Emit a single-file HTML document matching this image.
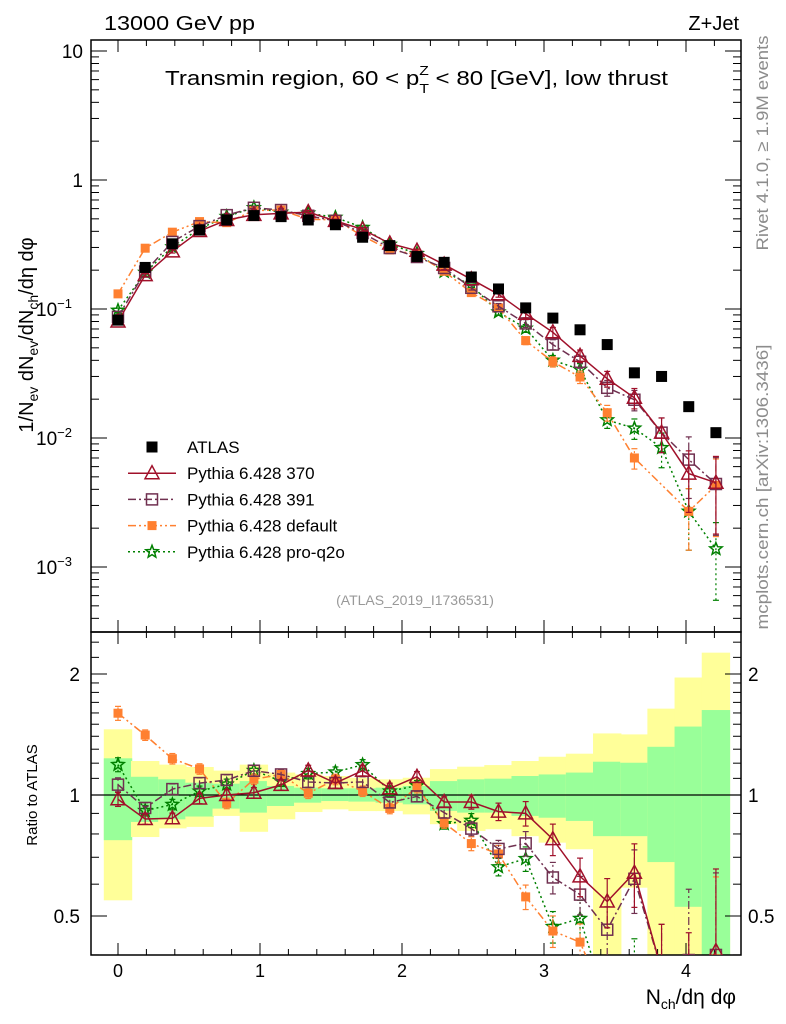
<!DOCTYPE html>
<html><head><meta charset="utf-8"><style>
html,body{margin:0;padding:0;background:#fff;width:786px;height:1024px;overflow:hidden;}
svg{display:block;font-family:"Liberation Sans",Arial,sans-serif;}
</style></head><body>
<svg id="chart" width="786" height="1024" viewBox="0 0 786 1024" xmlns="http://www.w3.org/2000/svg">
<g id="bands"></g>
<g id="grid"></g>
<g id="series"></g>
<text x="104" y="30" font-size="20" textLength="151" lengthAdjust="spacingAndGlyphs">13000 GeV pp</text>
<text x="739" y="30" font-size="20" text-anchor="end">Z+Jet</text>
<text x="165" y="85" font-size="20" textLength="503" lengthAdjust="spacingAndGlyphs">Transmin region, 60 &lt; p<tspan font-size="13" dy="8">T</tspan><tspan font-size="13" dx="-8" dy="-18">Z</tspan><tspan dy="10"> &lt; 80 [GeV], low thrust</tspan></text>
<text transform="translate(768,143) rotate(-90)" font-size="17" fill="#8c8c8c" text-anchor="middle" textLength="215" lengthAdjust="spacingAndGlyphs">Rivet 4.1.0, ≥ 1.9M events</text>
<text transform="translate(768,487) rotate(-90)" font-size="17" fill="#8c8c8c" text-anchor="middle" textLength="285" lengthAdjust="spacingAndGlyphs">mcplots.cern.ch [arXiv:1306.3436]</text>
<text x="415" y="605" font-size="14" fill="#999" text-anchor="middle">(ATLAS_2019_I1736531)</text>
<text transform="translate(33,335) rotate(-90)" font-size="20" text-anchor="middle">1/N<tspan font-size="14" dy="5">ev</tspan><tspan dy="-5"> dN</tspan><tspan font-size="14" dy="5">ev</tspan><tspan dy="-5">/dN</tspan><tspan font-size="14" dy="5">ch</tspan><tspan dy="-5">/dη dφ</tspan></text>
<text transform="translate(37,795) rotate(-90)" font-size="15" text-anchor="middle">Ratio to ATLAS</text>
<text x="736" y="1004" font-size="21" text-anchor="end">N<tspan font-size="14" dy="5">ch</tspan><tspan dy="-5">/dη dφ</tspan></text>
<g id="legend"></g>
</svg>
<script>
// ---- data ----
const xCenters = [0,0.1914,0.3828,0.5742,0.7656,0.957,1.1484,1.3398,1.5312,1.7226,1.914,2.1054,2.2968,2.4882,2.6796,2.871,3.0624,3.2538,3.4452,3.6366,3.828,4.0194,4.2108];
const atlas = [0.082,0.21,0.32,0.41,0.49,0.53,0.52,0.49,0.45,0.36,0.31,0.255,0.23,0.177,0.143,0.102,0.085,0.069,0.053,0.032,0.030,0.0175,0.011];
const p370 = [0.080,0.183,0.28,0.402,0.49,0.537,0.551,0.564,0.482,0.414,0.322,0.283,0.221,0.170,0.130,0.0918,0.066,0.0433,0.0288,0.0205,0.011,0.0053,0.0045];
const p391 = [0.087,0.195,0.331,0.439,0.534,0.609,0.585,0.528,0.482,0.388,0.297,0.253,0.208,0.146,0.105,0.0773,0.053,0.039,0.0245,0.0198,0.011,0.0068,0.0044];
const pDefault = [0.131,0.296,0.394,0.476,0.467,0.58,0.585,0.495,0.492,0.368,0.287,0.266,0.196,0.134,0.102,0.0569,0.039,0.0297,0.0157,0.0070,null,0.0027,0.0043];
const pq2o = [0.0976,0.192,0.303,0.419,0.521,0.61,0.563,0.554,0.513,0.428,0.317,0.269,0.195,0.153,0.0947,0.0708,0.040,0.034,0.0138,0.0119,0.0084,0.0027,0.00138];
const mcRelErr = [0.04,0.03,0.03,0.03,0.03,0.03,0.03,0.03,0.03,0.03,0.03,0.03,0.03,0.04,0.05,0.07,0.09,0.11,0.14,0.18,0.3,0.5,0.6];
const bandYellowHi = [1.457,1.215,1.19,1.174,1.15,1.19,1.137,1.125,1.115,1.104,1.094,1.104,1.16,1.176,1.187,1.215,1.245,1.267,1.423,1.415,1.64,1.96,2.26];
const bandYellowLo = [0.547,0.786,0.826,0.833,0.887,0.81,0.87,0.907,0.921,0.912,0.912,0.895,0.846,0.814,0.822,0.79,0.761,0.733,0.3,0.588,0.3,0.3,0.3];
const bandGreenHi = [1.234,1.11,1.094,1.073,1.067,1.083,1.053,1.043,1.039,1.039,1.043,1.053,1.083,1.094,1.098,1.115,1.125,1.137,1.21,1.203,1.318,1.48,1.627];
const bandGreenLo = [0.772,0.857,0.87,0.884,0.925,0.904,0.939,0.957,0.966,0.963,0.957,0.948,0.913,0.904,0.904,0.887,0.878,0.862,0.79,0.79,0.681,0.527,0.3];
const xTicks = [0,1,2,3,4];
const ratioTicks = [0.5,1,2];

// ---- axes ----
const L=91,R=741,MT=40,MB=632,RB=955;
const binHalf=0.1;
function sx(v){return 118+142*v;}
function sy(v){return Math.min(MB+40,Math.max(MT-30,180-129*Math.log10(v)));}
function sr(v){return Math.min(RB+50,Math.max(MB-40,795-121*Math.log2(v)));}
const NS="http://www.w3.org/2000/svg";
function mk(tag,attrs,parent){const e=document.createElementNS(NS,tag);for(const k in attrs)e.setAttribute(k,attrs[k]);parent.appendChild(e);return e;}
const bands=document.getElementById('bands'),grid=document.getElementById('grid'),ser=document.getElementById('series'),leg=document.getElementById('legend');
function clampR(y){return Math.max(MB,Math.min(RB,y));}

xCenters.forEach((x,i)=>{
  const x0=Math.max(L,sx(x-binHalf)),x1=sx(x+binHalf);
  const yb=mk('rect',{x:x0,y:clampR(sr(bandYellowHi[i])),width:x1-x0,height:clampR(sr(bandYellowLo[i]))-clampR(sr(bandYellowHi[i])),fill:'#ffff99'},bands);
  
  
  const gb=mk('rect',{x:x0,y:clampR(sr(bandGreenHi[i])),width:x1-x0,height:clampR(sr(bandGreenLo[i]))-clampR(sr(bandGreenHi[i])),fill:'#99ff99'},bands);
  
  
});

[[MT,MB],[MB,RB]].forEach(([t,b])=>{mk('rect',{x:L,y:t,width:R-L,height:b-t,fill:'none',stroke:'#000','stroke-width':1.5},grid);});
mk('line',{x1:L,x2:R,y1:sr(1),y2:sr(1),stroke:'#000','stroke-width':1.3},grid);
for(let v=-0.2;v<=4.39;v+=0.2){
  const vv=Math.round(v*10)/10;const X=sx(vv);if(X<L||X>R)continue;
  const major=Math.abs(vv-Math.round(vv))<1e-6;const len=major?12:6;
  [[MB,-1],[MT,1],[RB,-1],[MB,1]].forEach(([y,d])=>mk('line',{x1:X,x2:X,y1:y,y2:y+d*len,stroke:'#000','stroke-width':1},grid));
}
xTicks.forEach(v=>{const t=mk('text',{x:sx(v),y:977,'font-size':18,'text-anchor':'middle'},grid);t.textContent=v;
  
  });
for(let e=-4;e<=1;e++){for(let m=1;m<=9;m++){const v=m*Math.pow(10,e);const Y=180-129*Math.log10(v);if(Y<MT||Y>MB)continue;const len=m===1?16:8;
  mk('line',{x1:L,x2:L+len,y1:Y,y2:Y,stroke:'#000','stroke-width':1},grid);mk('line',{x1:R,x2:R-len,y1:Y,y2:Y,stroke:'#000','stroke-width':1},grid);}}
const yl=[[10,'10'],[1,'1'],[0.1,'10','−1'],[0.01,'10','−2'],[0.001,'10','−3']];
yl.forEach(a=>{const t=mk('text',{x:a[2]?72:83,y:sy(a[0])+7,'font-size':19,'text-anchor':'end'},grid);t.textContent=a[1];
  
  
  if(a[2]){const s=mk('tspan',{'font-size':13,dy:-8},t);s.textContent=a[2];}});
const rminor=[0.4,0.5,0.6,0.7,0.8,0.9,1,1.1,1.2,1.3,1.4,1.5,1.6,1.7,1.8,1.9,2,2.2,2.4];
rminor.forEach(v=>{const Y=795-121*Math.log2(v);if(Y<MB||Y>RB)return;const len=(v===0.5||v===1||v===2)?16:8;
  mk('line',{x1:L,x2:L+len,y1:Y,y2:Y,stroke:'#000','stroke-width':1},grid);mk('line',{x1:R,x2:R-len,y1:Y,y2:Y,stroke:'#000','stroke-width':1},grid);});
ratioTicks.forEach(v=>{
  const t=mk('text',{x:80,y:sr(v)+7,'font-size':19,'text-anchor':'end'},grid);t.textContent=v;
  
  
  const t2=mk('text',{x:748,y:sr(v)+7,'font-size':19},grid);t2.textContent=v;
  
  });

function marker(kind,x,y,col,parent){
  if(kind==='atlas')return mk('rect',{x:x-5.5,y:y-5.5,width:11,height:11,fill:'#000'},parent);
  if(kind==='tri')return mk('polygon',{points:`${x},${y-7.5} ${x-7},${y+5.5} ${x+7},${y+5.5}`,fill:'none',stroke:col,'stroke-width':1.5},parent);
  if(kind==='sq')return mk('rect',{x:x-5.5,y:y-5.5,width:11,height:11,fill:'none',stroke:col,'stroke-width':1.5},parent);
  if(kind==='fsq')return mk('rect',{x:x-4.5,y:y-4.5,width:9,height:9,fill:col},parent);
  let p=[];for(let k=0;k<10;k++){const r=k%2?2.8:6.5;const a=-Math.PI/2+k*Math.PI/5;p.push((x+r*Math.cos(a)).toFixed(1)+','+(y+r*Math.sin(a)).toFixed(1));}
  return mk('polygon',{points:p.join(' '),fill:'none',stroke:col,'stroke-width':1.5},parent);
}
const seriesDefs=[
  {name:'pythia-370',label:'Pythia 6.428 370',data:p370,col:'#a0102a',kind:'tri',dash:''},
  {name:'pythia-391',label:'Pythia 6.428 391',data:p391,col:'#703050',kind:'sq',dash:'8,3,2,3'},
  {name:'pythia-default',label:'Pythia 6.428 default',data:pDefault,col:'#ff8030',kind:'fsq',dash:'8,3,2,3,2,3'},
  {name:'pythia-pro-q2o',label:'Pythia 6.428 pro-q2o',data:pq2o,col:'#008000',kind:'star',dash:'2,3'}
];
function clip(id,t,b){const c=mk('clipPath',{id:id},ser);mk('rect',{x:L,y:t,width:R-L,height:b-t},c);}
clip('cm',MT,MB);clip('cr',MB,RB);
const gm=mk('g',{'clip-path':'url(#cm)'},ser),gr=mk('g',{'clip-path':'url(#cr)'},ser);
seriesDefs.slice().reverse().forEach(s=>{
  const g1=mk('g',{},gm);
  const g2=mk('g',{},gr);
  let pm=[],pr=[];
  s.data.forEach((v,i)=>{if(v==null)return;const X=sx(xCenters[i]);pm.push(X+','+sy(v).toFixed(1));pr.push(X+','+sr(v/atlas[i]).toFixed(1));});
  mk('polyline',{points:pm.join(' '),fill:'none',stroke:s.col,'stroke-width':1.5,'stroke-dasharray':s.dash},g1);
  mk('polyline',{points:pr.join(' '),fill:'none',stroke:s.col,'stroke-width':1.5,'stroke-dasharray':s.dash},g2);
  s.data.forEach((v,i)=>{if(v==null)return;const X=sx(xCenters[i]);const e=mcRelErr[i];
    const lo=Math.max(v*(1-e),1e-5),hi=v*(1+e);
    [[g1,sy],[g2,(u)=>sr(u/atlas[i])]].forEach(([g,f])=>{
      mk('line',{x1:X,x2:X,y1:f(lo),y2:f(hi),stroke:s.col,'stroke-width':1.2,'stroke-dasharray':s.dash},g);
      mk('line',{x1:X-3,x2:X+3,y1:f(lo),y2:f(lo),stroke:s.col,'stroke-width':1.2},g);
      mk('line',{x1:X-3,x2:X+3,y1:f(hi),y2:f(hi),stroke:s.col,'stroke-width':1.2},g);
      const m=marker(s.kind,X,f(v),s.col,g);
      
      
    });
  });
});
const ga=mk('g',{'clip-path':'url(#cm)'},ser);
atlas.forEach((v,i)=>{const m=marker('atlas',sx(xCenters[i]),sy(v),'#000',ga);
  
  });

const rows=[{label:'ATLAS',kind:'atlas',col:'#000',dash:null}].concat(seriesDefs);
rows.forEach((r,k)=>{const y=447+26.2*k;
  const g=mk('g',{},leg);
  if(r.dash!==null&&r.dash!==undefined)mk('line',{x1:128,x2:176,y1:y,y2:y,stroke:r.col,'stroke-width':1.5,'stroke-dasharray':r.dash},g);
  marker(r.kind,152,y,r.col,g);
  const t=mk('text',{x:187,y:y+6,'font-size':17},g);t.textContent=r.label;});
</script>
</body></html>
